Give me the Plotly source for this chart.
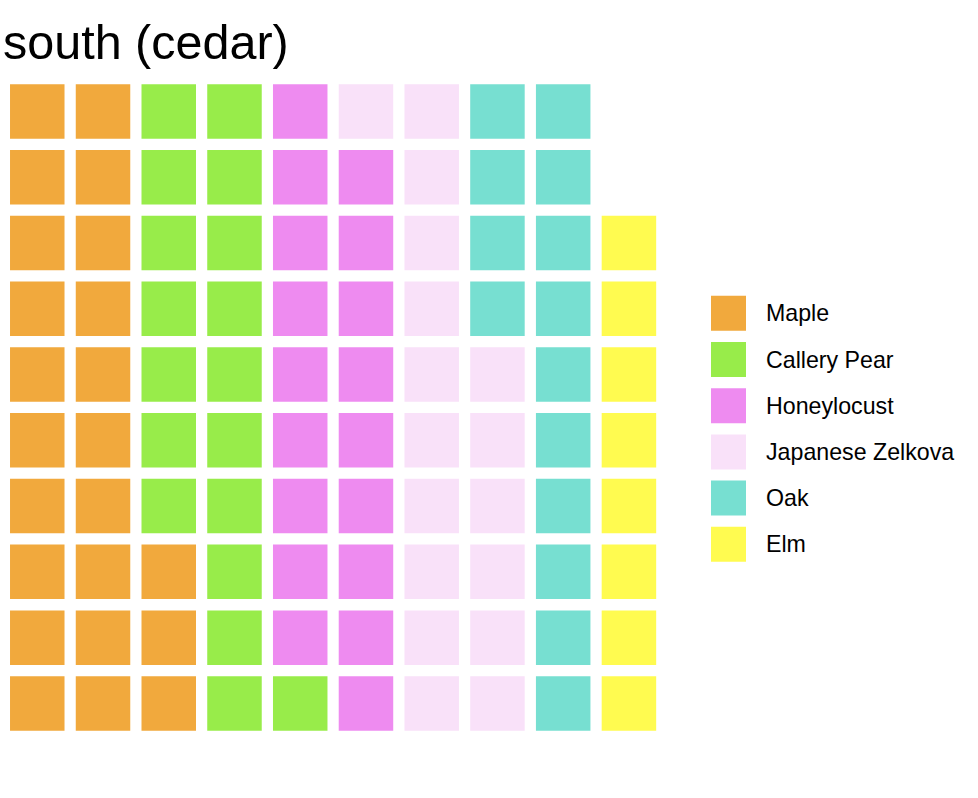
import plotly.graph_objects as go

# ---- data ----
species = ["Maple", "Callery Pear", "Honeylocust", "Japanese Zelkova", "Oak", "Elm"]
counts = [23, 18, 18, 17, 14, 8]
colors = ["#F1A93D", "#98EC4A", "#EE8BF0", "#F9E1F9", "#77DFD1", "#FFFB50"]
title_text = "south (cedar)"
n_rows = 10

W, H = 978, 798
fig = go.Figure()

# waffle cells: fill column by column from the bottom
k = 0
for name, n, c in zip(species, counts, colors):
    xs, ys = [], []
    for _ in range(n):
        xs.append(k // n_rows + 1)
        ys.append(k % n_rows + 1)
        k += 1
    fig.add_trace(go.Scatter(
        x=xs, y=ys, mode="markers", name=name, showlegend=False,
        marker=dict(symbol="square", size=54.5, color=c, line=dict(width=0)),
        hoverinfo="name", xaxis="x", yaxis="y"))

# custom legend (pixel coordinate axes x2/y2)
leg_x = 728.5
leg_y0 = 313.3
leg_step = 46.2
lys = [leg_y0 + i * leg_step for i in range(len(species))]
fig.add_trace(go.Scatter(
    x=[leg_x] * len(species), y=lys, mode="markers", showlegend=False,
    marker=dict(symbol="square", size=35, color=colors, line=dict(width=0)),
    hoverinfo="skip", xaxis="x2", yaxis="y2"))
annotations = []
for name, yy in zip(species, lys):
    annotations.append(dict(x=763.5, y=yy, xref="x2", yref="y2", text=name,
                            showarrow=False, xanchor="left", yanchor="middle",
                            font=dict(family="Liberation Sans, Arial", size=23.2, color="#000000")))

left_px, right_px = 4.4, 661.8
top_px, bot_px = 78.6, 736.3

fig.update_layout(
    width=W, height=H,
    margin=dict(l=0, r=0, t=0, b=0),
    paper_bgcolor="white", plot_bgcolor="rgba(0,0,0,0)",
    title=dict(text=title_text, x=3 / W, xanchor="left", xref="container",
               y=1 - 42 / H, yanchor="middle", yref="container",
               font=dict(family="Liberation Sans, Arial", size=48.5, color="#000000")),
    xaxis=dict(domain=[left_px / W, right_px / W], range=[0.5, 10.5],
               visible=False, fixedrange=True),
    yaxis=dict(domain=[1 - bot_px / H, 1 - top_px / H], range=[0.5, 10.5],
               visible=False, fixedrange=True),
    xaxis2=dict(domain=[0, 1], range=[0, W], visible=False, fixedrange=True, anchor="y2"),
    yaxis2=dict(domain=[0, 1], range=[H, 0], visible=False, fixedrange=True, anchor="x2"),
    annotations=annotations,
    showlegend=False,
)

fig.write_html("out.html")
